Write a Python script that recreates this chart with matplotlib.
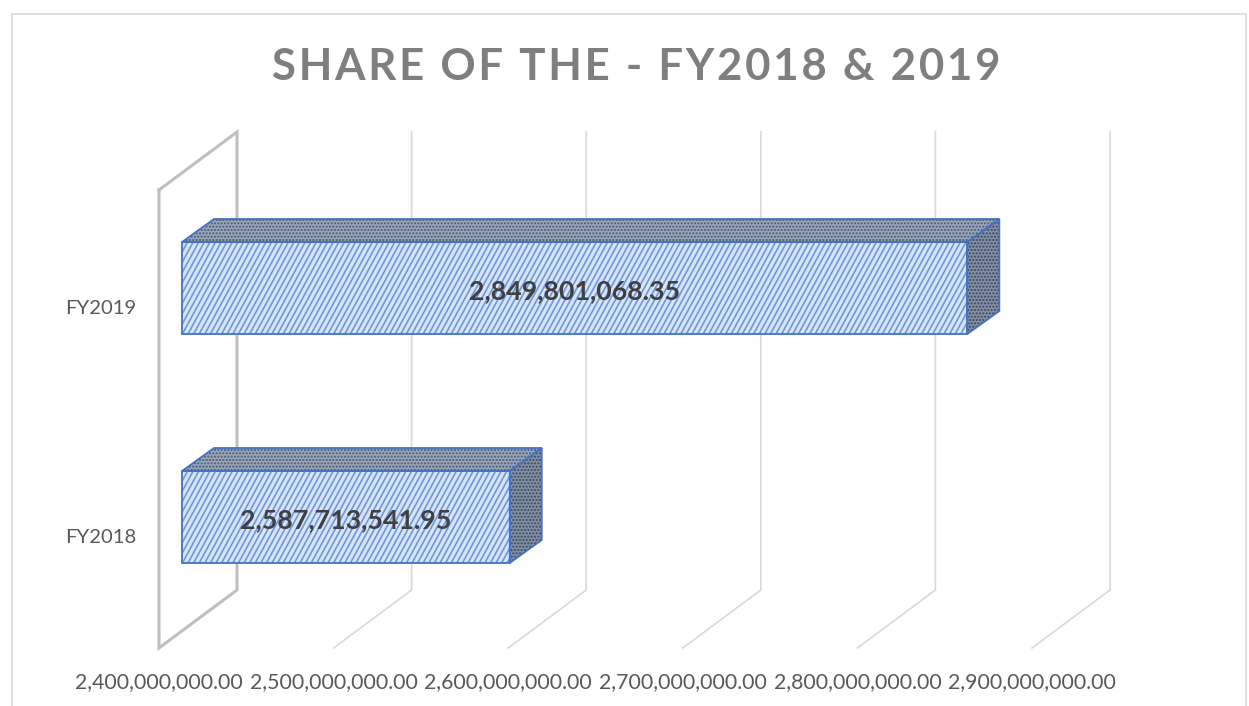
import numpy as np
import matplotlib
matplotlib.use('Agg')
import matplotlib.pyplot as plt
from matplotlib.collections import LineCollection
from matplotlib.patches import Polygon, Rectangle
from matplotlib.ticker import FuncFormatter
from matplotlib.transforms import ScaledTranslation

# valores do grafico
categorias = ['FY2018', 'FY2019']
valores = [2587713541.95, 2849801068.35]
ticks_x = [2400000000, 2500000000, 2600000000, 2700000000, 2800000000, 2900000000]
titulo = 'SHARE OF THE - FY2018 & 2019'

plt.rcParams['font.family'] = ['Lato', 'DejaVu Sans']
plt.rcParams['hatch.linewidth'] = 1.0

fig = plt.figure(figsize=(12.49, 7.06), dpi=100)
W, H = 1249, 706
# plano da frente do grafico 3D: x 159..1032, y 190..648 (pixels)
ax = fig.add_axes([159 / W, 1 - 648 / H, 873 / W, 458 / H])
ax.set_xlim(ticks_x[0], ticks_x[-1])
ax.set_ylim(-0.5, 1.5)

# profundidade em unidades dos eixos
unid_x = (ticks_x[-1] - ticks_x[0]) / 873
unid_y = 2 / 458
prof_x = 78 * unid_x
prof_y = 58 * unid_y
ini_x = 23 * unid_x
ini_y = 16.5 * unid_y
bar_x = 32 * unid_x
bar_y = 23 * unid_y
altura = 92 * unid_y

# paredes e grade
for i, t in enumerate(ticks_x):
    cor = '#bfbfbf' if i == 0 else '#d9d9d9'
    lw = 2.2 if i == 0 else 1.2
    xs = [t, t + prof_x, t + prof_x]
    ys = [-0.5, -0.5 + prof_y, 1.5 + prof_y]
    if i == 0:
        xs = [t, t] + [t + prof_x, t + prof_x, t]
        ys = [1.5, -0.5] + [-0.5 + prof_y, 1.5 + prof_y, 1.5]
    ax.plot(xs, ys, color=cor, lw=lw, clip_on=False, zorder=1, solid_joinstyle='miter')

# barras
azul = '#4472c4'
for k, v in enumerate(valores):
    x0 = ticks_x[0] + ini_x
    x1 = v + ini_x
    y0 = k + ini_y - altura / 2
    y1 = k + ini_y + altura / 2
    frente = [(x0, y0), (x1, y0), (x1, y1), (x0, y1)]
    topo = [(x0, y1), (x1, y1), (x1 + bar_x, y1 + bar_y), (x0 + bar_x, y1 + bar_y)]
    lado = [(x1, y0), (x1 + bar_x, y0 + bar_y), (x1 + bar_x, y1 + bar_y), (x1, y1)]
    fundo = Polygon(frente, closed=True, facecolor='#d8e5f8', lw=0, clip_on=True, zorder=3)
    ax.add_patch(fundo)
    # listras inclinadas da frente
    passo = 5.6 * unid_x
    incl = 50 * unid_x
    listras = [[(x, y0), (x + incl, y1)] for x in np.arange(x0 - incl, x1, passo)]
    lc = LineCollection(listras, colors='#7199dc', linewidths=1.25, zorder=3.5)
    ax.add_collection(lc)
    lc.set_clip_path(fundo)
    ax.add_patch(Polygon(topo, closed=True, facecolor='#99a5b9', edgecolor='#47576f',
                         hatch='.....', lw=0, clip_on=False, zorder=3))
    ax.add_patch(Polygon(lado, closed=True, facecolor='#838fa4', edgecolor='#38465c',
                         hatch='.....', lw=0, clip_on=False, zorder=3))
    for p in [frente, topo, lado]:
        ax.add_patch(Polygon(p, closed=True, fill=False, edgecolor=azul, lw=1.3,
                             clip_on=False, zorder=4))
    ax.text((x0 + x1) / 2, k + ini_y - 3 * unid_y, f'{v:,.2f}', ha='center', va='center',
            fontsize=19.3, fontweight='bold', color='#404040', zorder=5)

# eixos
for s in ax.spines.values():
    s.set_visible(False)
ax.patch.set_alpha(0)
ax.set_xticks(ticks_x)
ax.xaxis.set_major_formatter(FuncFormatter(lambda v, p: f'{v:,.2f}'))
ax.set_yticks(range(len(categorias)))
ax.set_yticklabels(categorias)
ax.tick_params(axis='x', length=0, pad=17, labelsize=15.3, labelcolor='#595959')
ax.tick_params(axis='y', length=0, pad=16.5, labelsize=14.6, labelcolor='#595959')
desce = ScaledTranslation(0, -2 / 72, fig.dpi_scale_trans)
for lab in ax.get_yticklabels():
    lab.set_transform(lab.get_transform() + desce)

# moldura do grafico, aberta embaixo
fig.add_artist(Rectangle((12 / W, -0.05), 1234 / W, 1.05 - 14 / H, transform=fig.transFigure,
                         fill=False, edgecolor='#d9d9d9', lw=1.2))

# titulo espacado
fig.text(636 / W, 1 - 67 / H, '\u200a'.join(titulo), ha='center', va='center',
         fontsize=31.5, fontweight='bold', color='#7f7f7f')

fig.savefig('out.png', dpi=100)
